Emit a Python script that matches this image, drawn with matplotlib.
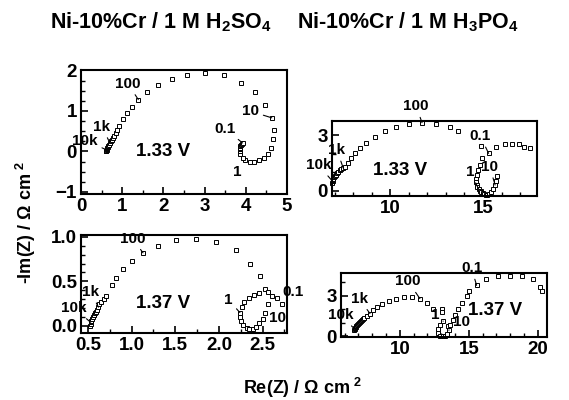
import numpy as np
import matplotlib.pyplot as plt
from matplotlib.ticker import MultipleLocator

plt.rcParams['font.family'] = ['Liberation Sans', 'DejaVu Sans']
plt.rcParams['font.weight'] = 'bold'
plt.rcParams['mathtext.fontset'] = 'custom'
plt.rcParams['mathtext.rm'] = 'Liberation Sans:bold'
plt.rcParams['mathtext.bf'] = 'Liberation Sans:bold'
plt.rcParams['mathtext.default'] = 'bf'
plt.rcParams['axes.linewidth'] = 1.5

# Ni-10%Cr / 1 M H2SO4, 1.33 V
x_s133 = [0.60, 0.61, 0.62, 0.63, 0.64, 0.65, 0.66, 0.68, 0.70, 0.72, 0.74, 0.77, 0.80, 0.84, 0.88,
          0.93, 1.01, 1.11, 1.23, 1.39, 1.59, 1.86, 2.20, 2.58, 3.02, 3.47, 3.88, 4.22, 4.47, 4.63,
          4.68, 4.67, 4.61, 4.53, 4.44, 4.33, 4.20, 4.09, 3.98, 3.92, 3.87, 3.86, 3.86, 3.86, 3.87,
          3.88, 3.90, 3.92]
y_s133 = [0.00, 0.02, 0.04, 0.06, 0.09, 0.11, 0.14, 0.17, 0.21, 0.25, 0.29, 0.34, 0.39, 0.45, 0.52,
          0.62, 0.79, 0.95, 1.10, 1.28, 1.46, 1.65, 1.79, 1.89, 1.93, 1.88, 1.70, 1.46, 1.15, 0.83,
          0.54, 0.31, 0.09, -0.07, -0.15, -0.21, -0.25, -0.25, -0.22, -0.17, -0.07, 0.00, 0.05, 0.09,
          0.13, 0.16, 0.19, 0.21]

# Ni-10%Cr / 1 M H3PO4, 1.33 V
x_p133 = [6.88, 6.89, 6.91, 6.94, 6.97, 7.01, 7.06, 7.12, 7.19, 7.27, 7.36, 7.46, 7.57,
          7.72, 7.88, 8.11, 8.38, 8.71, 9.15, 9.69, 10.31, 10.99, 11.71, 12.48, 13.24, 13.66,
          14.95, 14.85, 14.72, 14.65, 14.62, 14.62, 14.65, 14.70, 14.76, 14.83, 14.90, 14.98,
          15.06, 15.14, 15.22, 15.33, 15.45, 15.56, 15.65, 15.71, 15.75,
          14.89, 15.30, 15.72, 16.20, 16.56, 16.92, 17.23, 17.55]
y_p133 = [0.45, 0.52, 0.59, 0.66, 0.73, 0.80, 0.87, 0.95, 1.02, 1.10, 1.17, 1.24, 1.31,
          1.51, 1.75, 2.02, 2.32, 2.58, 2.90, 3.21, 3.44, 3.60, 3.67, 3.62, 3.44, 3.20,
          1.75, 1.40, 1.10, 0.85, 0.65, 0.48, 0.34, 0.22, 0.11, 0.02, -0.06, -0.12,
          -0.17, -0.20, -0.21, -0.18, -0.08, 0.10, 0.32, 0.55, 0.80,
          2.42, 2.02, 2.37, 2.55, 2.55, 2.50, 2.37, 2.32]

# Ni-10%Cr / 1 M H2SO4, 1.37 V
x_s137 = [0.52, 0.53, 0.53, 0.54, 0.55, 0.56, 0.57, 0.58, 0.59, 0.60, 0.62, 0.63,
          0.65, 0.68, 0.71, 0.77, 0.82, 0.90, 1.00, 1.13, 1.30, 1.51, 1.74, 1.97, 2.19, 2.36,
          2.47, 2.53, 2.46, 2.40, 2.34, 2.29, 2.26, 2.24, 2.24, 2.25, 2.28, 2.32, 2.35, 2.39,
          2.42, 2.46, 2.50, 2.53, 2.56, 2.56, 2.61, 2.66, 2.72]
y_s137 = [0.00, 0.02, 0.04, 0.06, 0.08, 0.10, 0.12, 0.14, 0.16, 0.18, 0.21, 0.24,
          0.27, 0.30, 0.34, 0.46, 0.54, 0.64, 0.73, 0.82, 0.90, 0.96, 0.97, 0.94, 0.85, 0.70,
          0.56, 0.41, 0.37, 0.35, 0.31, 0.27, 0.21, 0.15, 0.10, 0.05, 0.01, -0.02, -0.03, -0.03,
          -0.01, 0.03, 0.08, 0.15, 0.24, 0.38, 0.34, 0.31, 0.25]

# Ni-10%Cr / 1 M H3PO4, 1.37 V
x_p137 = [6.69, 6.72, 6.76, 6.80, 6.85, 6.90, 6.96, 7.03, 7.10, 7.18, 7.27, 7.36, 7.41,
          7.59, 7.83, 8.07, 8.36, 8.72, 9.20, 9.69, 10.29, 10.85, 11.45, 12.00, 12.42, 13.02,
          13.02, 13.14, 12.90, 12.78, 12.78, 12.90, 13.10, 13.30, 13.45, 13.55, 13.50, 13.62,
          13.82, 13.99, 14.18, 14.47, 14.83, 15.00, 15.56, 16.23, 17.12, 17.97, 18.82, 19.66,
          20.14, 20.31]
y_p137 = [0.44, 0.52, 0.60, 0.68, 0.76, 0.84, 0.92, 1.00, 1.07, 1.14, 1.21, 1.27, 1.31,
          1.48, 1.68, 1.93, 2.13, 2.37, 2.61, 2.79, 2.91, 2.91, 2.79, 2.49, 2.05, 2.05,
          1.80, 1.11, 0.86, 0.52, 0.20, 0.00, -0.03, -0.03, 0.12, 0.44, 0.77, 0.81,
          1.19, 1.56, 1.98, 2.47, 2.96, 3.33, 3.78, 4.22, 4.47, 4.47, 4.47, 4.22,
          3.65, 3.33]

# frequency labels: (text, index of point, text x, text y)
lab_s133 = [('100', 19, 1.14, 1.67), ('1k', 8, 0.51, 0.61), ('10k', 2, 0.10, 0.27),
            ('10', 29, 4.12, 0.99), ('0.1', 47, 3.50, 0.56)]
lab_p133 = [('100', 22, 11.40, 4.55), ('1k', 11, 7.13, 2.20), ('10k', 1, 6.13, 1.39),
            ('0.1', 48, 14.85, 2.95), ('1', 34, 14.31, 1.03), ('10', 44, 15.36, 1.30)]
lab_s137 = [('100', 19, 1.01, 0.98), ('1k', 10, 0.53, 0.38), ('10k', 2, 0.34, 0.20),
            ('1', 33, 2.11, 0.29)]
lab_p137 = [('100', 22, 10.60, 4.07), ('1k', 14, 7.05, 2.79), ('10k', 1, 5.72, 1.56),
            ('0.1', 44, 15.20, 5.06), ('1', 27, 12.54, 1.56), ('10', 35, 14.47, 1.06)]

fig = plt.figure(figsize=(5.69, 4.0), dpi=100)
ax1 = fig.add_axes([0.1424, 0.515, 0.362, 0.309])
ax2 = fig.add_axes([0.5835, 0.51, 0.360, 0.188])
ax3 = fig.add_axes([0.1424, 0.1675, 0.362, 0.245])
ax4 = fig.add_axes([0.599, 0.1575, 0.362, 0.159])

fs_lab = 11


def panel(ax, x, y, labels, volt, vpos, xlim, ylim, xmaj, xmin, ymaj, ymin):
    ax.plot(x, y, 's', ms=3, mfc='white', mec='black', mew=0.7, clip_on=False)
    for txt, i, tx, ty in labels:
        ax.annotate(txt, xy=(x[i], y[i]), xytext=(tx, ty), fontsize=fs_lab, fontweight='bold',
                    ha='center', va='center', annotation_clip=False,
                    arrowprops=dict(arrowstyle='-', lw=0.8, color='black', shrinkA=1, shrinkB=0))
    ax.text(vpos[0], vpos[1], volt, fontsize=13.5, fontweight='bold', ha='center', va='center')
    ax.set_xlim(xlim)
    ax.set_ylim(ylim)
    ax.xaxis.set_major_locator(MultipleLocator(xmaj))
    ax.xaxis.set_minor_locator(MultipleLocator(xmin))
    ax.yaxis.set_major_locator(MultipleLocator(ymaj))
    ax.yaxis.set_minor_locator(MultipleLocator(ymin))
    ax.tick_params(which='both', direction='in', top=False, right=False, labelsize=13.5)
    ax.tick_params(which='major', length=5, width=1.2, pad=3)
    ax.tick_params(which='minor', length=3, width=1)
    for t in ax.get_xticklabels() + ax.get_yticklabels():
        t.set_fontweight('bold')


panel(ax1, x_s133, y_s133, lab_s133, '1.33 V', (1.99, 0.0), (0, 5), (-1.05, 2.0), 1, 0.5, 1, 0.25)
ax1.text(3.80, -0.51, '1', fontsize=fs_lab, fontweight='bold', ha='center', va='center')

panel(ax2, x_p133, y_p133, lab_p133, '1.33 V', (10.54, 1.09), (6.86, 17.9), (-0.27, 3.77), 5, 1, 3, 1)

panel(ax3, x_s137, y_s137, lab_s137, '1.37 V', (1.36, 0.25), (0.42, 2.78), (-0.08, 1.02), 0.5, 0.25, 0.5, 0.1)
ax3.text(2.67, 0.09, '10', fontsize=fs_lab, fontweight='bold', ha='center', va='center')
ax3.text(2.85, 0.38, '0.1', fontsize=fs_lab, fontweight='bold', ha='center', va='center')
ax3.set_yticks([0.0, 0.5, 1.0])
ax3.set_yticklabels(['0.0', '0.5', '1.0'], fontweight='bold')
ax3.set_xticks([0.5, 1.0, 1.5, 2.0, 2.5])
ax3.set_xticklabels(['0.5', '1.0', '1.5', '2.0', '2.5'], fontweight='bold')

panel(ax4, x_p137, y_p137, lab_p137, '1.37 V', (16.88, 1.93), (5.72, 20.65), (-0.07, 4.67), 5, 1, 3, 1)

fig.text(0.283, 0.945, 'Ni-10%Cr / 1 M H$_2$SO$_4$', fontsize=15.5, fontweight='bold',
         ha='center', va='center')
fig.text(0.717, 0.945, 'Ni-10%Cr / 1 M H$_3$PO$_4$', fontsize=15.5, fontweight='bold',
         ha='center', va='center')
fig.text(0.045, 0.445, '-Im(Z) / \u03a9 cm$^{\\ 2}$', fontsize=13, fontweight='bold',
         rotation=90, ha='center', va='center')
fig.text(0.532, 0.03, 'Re(Z) / \u03a9 cm$^{\\ 2}$', fontsize=13, fontweight='bold',
         ha='center', va='center')

fig.savefig('out.png', dpi=100)
